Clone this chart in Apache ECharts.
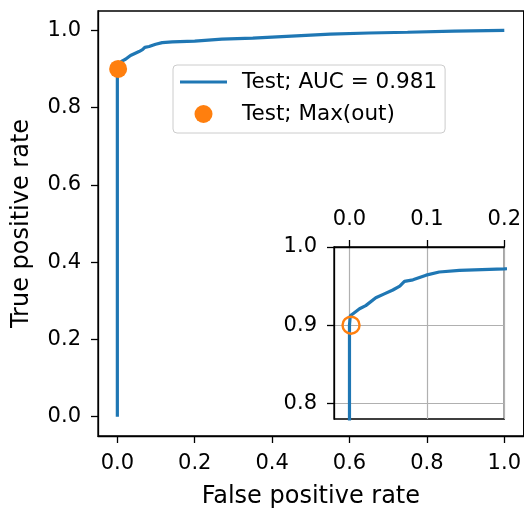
<!DOCTYPE html>
<html>
<head>
<meta charset="utf-8">
<script src="https://cdn.jsdelivr.net/npm/echarts@6/dist/echarts.min.js"></script>
<style>
  html, body { margin: 0; padding: 0; background: #fff; }
  #chart { width: 524px; height: 514px; }
</style>
</head>
<body>
<div id="chart"></div>
<script>
// ROC curve points
const fpr = [0, 0, 0.001, 0.005, 0.013, 0.021, 0.034, 0.045, 0.056, 0.065, 0.071, 0.082, 0.099, 0.116, 0.142, 0.2, 0.27, 0.35, 0.45, 0.55, 0.65, 0.75, 0.87, 1.0];
const tpr = [0, 0.9, 0.912, 0.915, 0.921, 0.925, 0.935, 0.94, 0.945, 0.95, 0.956, 0.958, 0.964, 0.968, 0.97, 0.972, 0.977, 0.98, 0.985, 0.99, 0.993, 0.995, 0.998, 1.0];
const maxPoint = [0.002, 0.9];

const mainTicks = [0, 0.2, 0.4, 0.6, 0.8, 1.0];
const insetXTicks = [0, 0.1, 0.2];
const insetYTicks = [0.8, 0.9, 1.0];

const lineName = "Test; AUC = 0.981";
const markName = "Test; Max(out)";

const blue = "#1f77b4";
const orange = "#ff7f0e";
const font = "DejaVu Sans";

const rocData = fpr.map((x, i) => [x, tpr[i]]);
const fmt = (v) => v.toFixed(1);

// thin bar icon for the line entry; the empty moves keep the box 47x18
const lineIcon = "path://M0,0M0,7.5H47V10.5H0ZM47,18";

function axisStyle(ticks, extra) {
  return Object.assign({
    type: "value",
    axisLine: { show: true, onZero: false, lineStyle: { color: "#000", width: 1.3 } },
    axisTick: { show: true, length: 7, customValues: ticks, lineStyle: { color: "#000", width: 1.3 } },
    axisLabel: { customValues: ticks, formatter: fmt, color: "#000", fontSize: 21, fontFamily: font, margin: 17 },
    splitLine: { show: false },
    nameTextStyle: { color: "#000", fontSize: 24, fontFamily: font },
  }, extra);
}

const chart = echarts.init(document.getElementById("chart"));
chart.setOption({
  animation: false,
  backgroundColor: "#fff",
  textStyle: { fontFamily: font },
  grid: [
    { left: 98, top: 11, right: -2, bottom: 74, show: true, borderColor: "#000", borderWidth: 1.3, backgroundColor: "#fff" },
    { left: 334, top: 247, width: 172, height: 172, show: true, borderColor: "#000", borderWidth: 1.3, backgroundColor: "#fff", z: 5 },
  ],
  legend: {
    data: [{ name: lineName, icon: lineIcon }, { name: markName, icon: "circle" }],
    orient: "vertical",
    left: 173,
    top: 65,
    itemWidth: 47,
    itemHeight: 18,
    itemGap: 10,
    padding: [6, 8, 8, 7],
    backgroundColor: "rgba(255,255,255,0.8)",
    borderColor: "#cccccc",
    borderWidth: 1,
    borderRadius: 4,
    textStyle: { color: "#000", fontSize: 21.5, fontFamily: font, padding: [0, 0, 0, 10] },
  },
  xAxis: [
    axisStyle(mainTicks, {
      gridIndex: 0, min: -0.05, max: 1.05,
      name: "False positive rate", nameLocation: "middle", nameGap: 49,
    }),
    axisStyle(insetXTicks, {
      gridIndex: 1, min: -0.02, max: 0.2, position: "top", z: 6,
      splitLine: { show: true, lineStyle: { color: "#b0b0b0", width: 1.2 } },
    }),
  ],
  yAxis: [
    axisStyle(mainTicks, {
      gridIndex: 0, min: -0.05, max: 1.05,
      name: "True positive rate", nameLocation: "middle", nameGap: 64,
    }),
    axisStyle(insetYTicks, {
      gridIndex: 1, min: 0.78, max: 1.0, z: 6,
      splitLine: { show: true, lineStyle: { color: "#b0b0b0", width: 1.2 } },
    }),
  ],
  series: [
    {
      name: lineName, type: "line", xAxisIndex: 0, yAxisIndex: 0,
      data: rocData, symbol: "none", color: blue,
      lineStyle: { color: blue, width: 3.2 },
    },
    {
      name: markName, type: "scatter", xAxisIndex: 0, yAxisIndex: 0,
      data: [maxPoint], symbol: "circle", symbolSize: 18, z: 3,
      itemStyle: { color: orange, opacity: 1 },
    },
    {
      name: "inset roc", type: "line", xAxisIndex: 1, yAxisIndex: 1,
      data: rocData, symbol: "none", clip: true, z: 7,
      lineStyle: { color: blue, width: 3.2 },
    },
    {
      name: "inset max", type: "scatter", xAxisIndex: 1, yAxisIndex: 1,
      data: [maxPoint], symbol: "circle", symbolSize: 17, z: 8,
      itemStyle: { color: "rgba(0,0,0,0)", borderColor: orange, borderWidth: 2.4, opacity: 1 },
    },
  ],
});
</script>
</body>
</html>
